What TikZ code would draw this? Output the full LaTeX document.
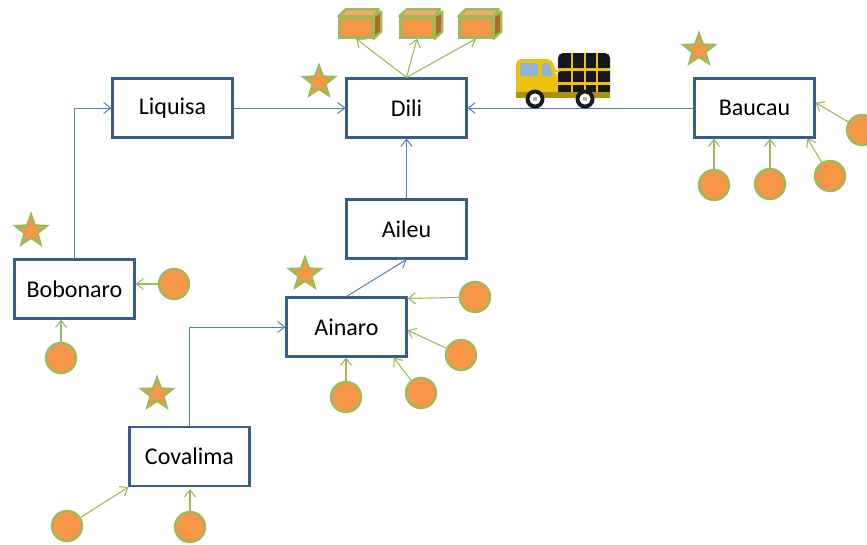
\documentclass[tikz,border=0pt]{standalone}
\usepackage{fontspec}
\setmainfont{Carlito}
\usetikzlibrary{arrows.meta,shapes.geometric,calc}
\definecolor{boxline}{HTML}{385D8A}
\definecolor{linkblue}{HTML}{4F81BD}
\definecolor{leaf}{HTML}{9BBB59}
\definecolor{fillorange}{HTML}{F79646}
\definecolor{darkorange}{HTML}{B7652B}
\definecolor{lightorange}{HTML}{F9AB6B}
\definecolor{truckyellow}{HTML}{EDC20F}
\definecolor{truckdark}{HTML}{B08E10}
\definecolor{truckglass}{HTML}{8DB4D6}
\definecolor{cargo}{HTML}{17171F}
\tikzset{
  x=1pt,y=-1pt,
  district/.style={draw=boxline,line width=2.1pt,fill=white,minimum width=120pt,minimum height=59pt,inner sep=0pt,font=\fontsize{24}{26}\selectfont},
  dot/.style={circle,draw=leaf,fill=fillorange,line width=2.4pt,minimum size=30pt,inner sep=0pt},
  mark star/.style={star,star points=5,star point ratio=2.4,draw=leaf,fill=fillorange,line width=2.2pt,minimum size=33pt,inner sep=0pt},
  crate/.style={draw=leaf,fill=fillorange,line width=2.4pt,minimum width=33pt,minimum height=20pt,inner sep=0pt},
  road/.style={draw=linkblue,line width=1pt,-{Straight Barb[length=7pt,width=11pt,line width=1pt]}},
  feed/.style={draw=leaf,line width=1.1pt,-{Straight Barb[length=7pt,width=11pt,line width=1.1pt]}},
}
\newcommand{\cratesides}[1]{%
  \draw[leaf,line width=2.4pt,line join=round,fill=lightorange] (#1.north west) -- ++(7.5,-7) -- ++(33,0) -- (#1.north east) -- cycle;
  \draw[leaf,line width=2.4pt,line join=round,fill=darkorange] (#1.south east) -- ++(7.5,-7) -- ++(0,-20) -- (#1.north east) -- cycle;
}
\newcommand{\truckwheel}[2]{%
  \fill[black!90] (#1,#2) circle[radius=9.5];
  \fill[white] (#1,#2) circle[radius=5.6];
  \fill[gray!60] (#1,#2) circle[radius=2.2];
}
\begin{document}
\begin{tikzpicture}
\useasboundingbox (0,0) rectangle (867,544);
\node[district] (liquisa) at (172.5,108) {Liquisa};
\node[district] (dili) at (406.5,108) {Dili};
\node[district] (baucau) at (754.5,108) {Baucau};
\node[district] (aileu) at (406.5,229) {Aileu};
\node[district] (bobonaro) at (74.5,289) {Bobonaro};
\node[district] (ainaro) at (346.5,327) {Ainaro};
\node[district] (covalima) at (189.5,456.5) {Covalima};

\node[mark star] (s1) at (319,82) {};
\node[mark star] (s2) at (699,50) {};
\node[mark star] (s3) at (305,274) {};
\node[mark star] (s4) at (31,231) {};
\node[mark star] (s5) at (157,394) {};

\node[dot] (b1) at (714,185) {};
\node[dot] (b2) at (770,184) {};
\node[dot] (b3) at (830,176) {};
\node[dot] (b4) at (862,130) {};
\node[dot] (o1) at (174,284) {};
\node[dot] (o2) at (61,358) {};
\node[dot] (a1) at (475,297) {};
\node[dot] (a2) at (461,355) {};
\node[dot] (a3) at (421,393) {};
\node[dot] (a4) at (346,397) {};
\node[dot] (c1) at (67,526) {};
\node[dot] (c2) at (190,527) {};

\node[crate] (k1) at (356,27.5) {};
\node[crate] (k2) at (417,27.5) {};
\node[crate] (k3) at (476,27.5) {};
\cratesides{k1}
\cratesides{k2}
\cratesides{k3}

\draw[road] (bobonaro.north) |- (liquisa.west);
\draw[road] (liquisa.east) -- (dili.west);
\draw[road] (baucau.west) -- (dili.east);
\draw[road] (aileu.north) -- (dili.south);
\draw[road] (ainaro.north) -- (aileu.south);
\draw[road] (covalima.north) |- (ainaro.west);

\draw[feed] (dili.north) -- (k1.south);
\draw[feed] (dili.north) -- (k2.south);
\draw[feed] (dili.north) -- (k3.south);

\draw[feed] (b1) -- (b1 |- baucau.south);
\draw[feed] (b2) -- (b2 |- baucau.south);
\draw[feed] (b3) -- (baucau.-30.5);
\draw[feed] (b4) -- (baucau.5);
\draw[feed] (o1) -- (o1 -| bobonaro.east);
\draw[feed] (o2) -- (o2 |- bobonaro.south);
\draw[feed] (a1) -- (ainaro.25);
\draw[feed] (a2) -- (ainaro.-3);
\draw[feed] (a3) -- (ainaro.-33.4);
\draw[feed] (a4) -- (a4 |- ainaro.south);
\draw[feed] (c1) -- (covalima.south west);
\draw[feed,shorten >=2pt] (c2) -- (c2 |- covalima.south);

% truck
\fill[cargo,rounded corners=5pt] (558,53) rectangle (610,96);
\foreach \tx in {572,585,597} \fill[truckyellow] (\tx-1.3,53) rectangle (\tx+1.3,96);
\foreach \ty in {69,83} \fill[truckyellow] (558,\ty-1.5) rectangle (610,\ty+1.5);
\fill[truckyellow,rounded corners=5pt] (516,59) -- (552,59) -- (556,72) -- (558,72) -- (558,97) -- (516,97) -- cycle;
\fill[truckglass,rounded corners=2pt] (520,63) rectangle (538,76);
\fill[truckglass,rounded corners=2pt] (542,63) -- (549,63) -- (553,76) -- (542,76) -- cycle;
\fill[truckdark] (516,92) rectangle (610,98);
\truckwheel{535}{99}
\truckwheel{585}{99}
\end{tikzpicture}
\end{document}
